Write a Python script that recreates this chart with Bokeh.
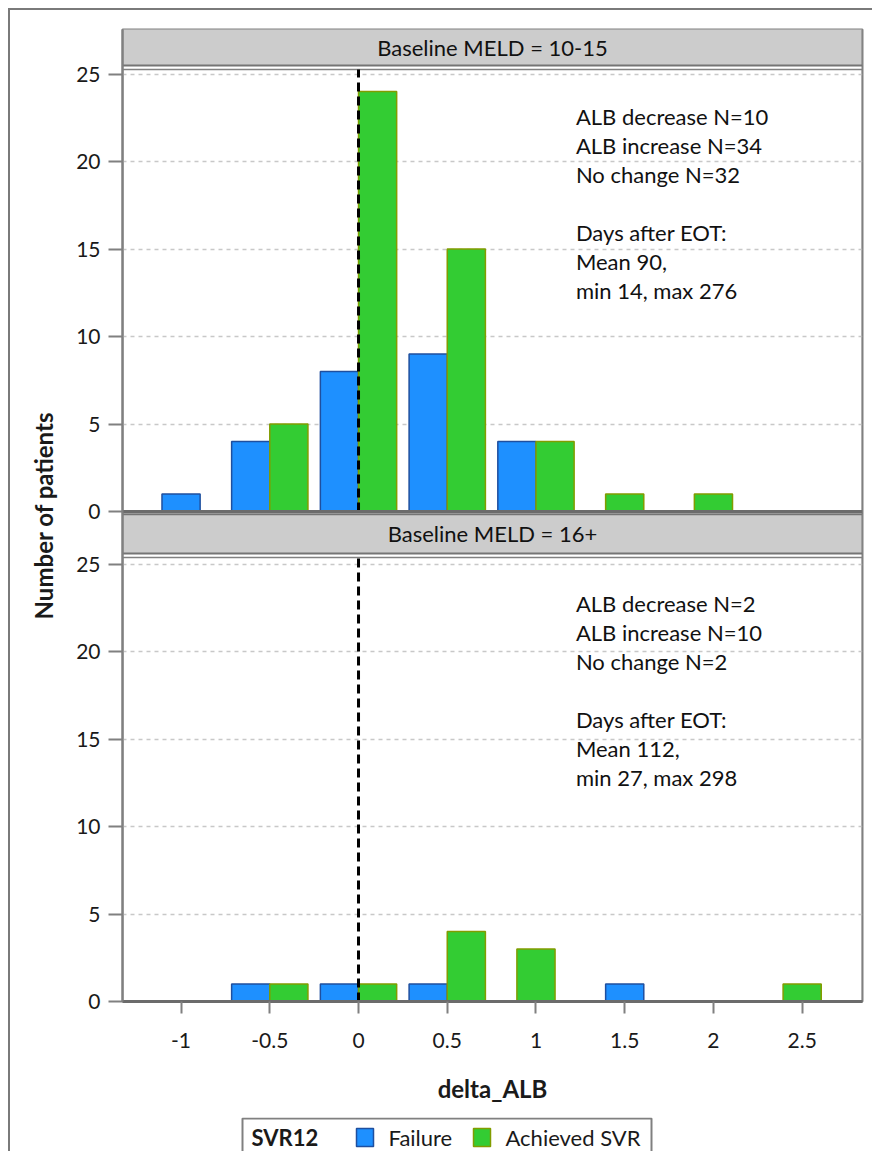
from bokeh.plotting import figure
from bokeh.models import Range1d, FixedTicker, Spacer
from bokeh.layouts import column, row
from bokeh.embed import file_html
from bokeh.resources import INLINE
from bokeh.core.properties import value

# ---------------- data ----------------
bins = [-1.0, -0.5, 0.0, 0.5, 1.0, 1.5, 2.0, 2.5]
top_failure = [1, 4, 8, 9, 4, 0, 0, 0]
top_svr = [0, 5, 24, 15, 4, 1, 1, 0]
bot_failure = [0, 1, 1, 1, 0, 1, 0, 0]
bot_svr = [0, 1, 1, 4, 3, 0, 0, 1]
panel_titles = ["Baseline MELD = 10-15", "Baseline MELD = 16+"]
top_note = ["ALB decrease N=10", "ALB increase N=34", "No change N=32", "",
            "Days after EOT:", "Mean 90,", "min 14, max 276"]
bot_note = ["ALB decrease N=2", "ALB increase N=10", "No change N=2", "",
            "Days after EOT:", "Mean 112,", "min 27, max 298"]
y_ticks = [0, 5, 10, 15, 20, 25]
x_ticks = [-1, -0.5, 0, 0.5, 1, 1.5, 2, 2.5]
group_labels = ["Failure", "Achieved SVR"]
legend_title = "SVR12"
x_label = "delta_ALB"
y_label = "Number of patients"

# ---------------- layout / style ----------------
FONT = "Lato"
W, H = 862, 1107
LEG_H = 34
MB_L, MB_R, MB_T, MB_B = 112, 10, 19, 116
FRAME_W = W - MB_L - MB_R
PX = 17.5                      # pixels per count
FRAME_H = H - MB_T - MB_B
Y_END = FRAME_H / PX
OFFSET = 28                    # top panel zero, in bottom-panel units
X0, X1 = -1.33, 2.84
BW = 0.215
PANEL_TOP_T = 25.26
PANEL_TOP_B = 25.37
BLUE, BLUE_LINE = "#1e90ff", "#1f4f9f"
GREEN, GREEN_LINE = "#33cc33", "#829c00"
GRAY = "#808080"
TXT = "#1a1a1a"

p = figure(width=W, height=H, x_range=Range1d(X0, X1), y_range=Range1d(0, Y_END),
           output_backend="svg", toolbar_location=None,
           min_border_left=MB_L, min_border_right=MB_R,
           min_border_top=MB_T, min_border_bottom=MB_B)
p.extra_y_ranges = {"top": Range1d(-OFFSET, Y_END - OFFSET)}
p.outline_line_color = GRAY
p.outline_line_width = 2
p.background_fill_color = "white"
p.border_fill_color = "white"

# grid
p.xgrid.visible = False
p.ygrid.ticker = FixedTicker(ticks=[t for t in y_ticks if t > 0] + [t + OFFSET for t in y_ticks if t > 0])
p.ygrid.grid_line_color = "#c8c8c8"
p.ygrid.grid_line_dash = "4 4"
p.ygrid.grid_line_width = 1.5

# axes
xa = p.xaxis[0]
xa.ticker = FixedTicker(ticks=x_ticks)
xa.major_label_overrides = {t: f"{t:g}" for t in x_ticks}
xa.axis_line_color = "#6b6b6b"
xa.axis_line_width = 3
xa.major_tick_line_color = GRAY
xa.major_tick_line_width = 2
xa.major_tick_out = 12
xa.major_tick_in = 0
xa.minor_tick_line_color = None
xa.major_label_standoff = 19
xa.major_label_text_font = FONT
xa.major_label_text_font_size = "21px"
xa.major_label_text_color = TXT
xa.axis_label = x_label
xa.axis_label_text_font = FONT
xa.axis_label_text_font_size = "24px"
xa.axis_label_text_font_style = "bold"
xa.axis_label_text_color = TXT
xa.axis_label_standoff = 23

ya = p.yaxis[0]
ya.ticker = FixedTicker(ticks=y_ticks + [t + OFFSET for t in y_ticks])
ya.major_label_overrides = {t + OFFSET: str(t) for t in y_ticks}
ya.axis_line_color = GRAY
ya.axis_line_width = 2
ya.major_tick_line_color = GRAY
ya.major_tick_line_width = 2
ya.major_tick_out = 14
ya.major_tick_in = 0
ya.minor_tick_line_color = None
ya.major_label_standoff = 8
ya.major_label_text_font = FONT
ya.major_label_text_font_size = "21px"
ya.major_label_text_color = TXT
ya.axis_label = y_label
ya.axis_label_text_font = FONT
ya.axis_label_text_font_size = "24px"
ya.axis_label_text_font_style = "bold"
ya.axis_label_text_color = TXT
ya.axis_label_standoff = 15


def dodge(fail, svr):
    fx, fy, sx, sy = [], [], [], []
    for c, f, s in zip(bins, fail, svr):
        both = f > 0 and s > 0
        if f > 0:
            fx.append(c - BW / 2 if both else c)
            fy.append(f)
        if s > 0:
            sx.append(c + BW / 2 if both else c)
            sy.append(s)
    return fx, fy, sx, sy


for fail, svr, rng, ptop in [(top_failure, top_svr, "top", PANEL_TOP_T),
                             (bot_failure, bot_svr, "default", PANEL_TOP_B)]:
    fx, fy, sx, sy = dodge(fail, svr)
    p.vbar(x=fx, top=fy, bottom=0, width=BW, fill_color=BLUE, line_color=BLUE_LINE,
           line_width=1.5, y_range_name=rng)
    p.vbar(x=sx, top=sy, bottom=0, width=BW, fill_color=GREEN, line_color=GREEN_LINE,
           line_width=1.5, y_range_name=rng)
    # panel border
    p.quad(left=[X0], right=[X1], bottom=[0], top=[ptop], fill_color=None,
           line_color=GRAY, line_width=1.5, y_range_name=rng)
    # zero reference line
    p.segment(x0=[0], y0=[0], x1=[0], y1=[ptop], line_color="black", line_width=3,
              line_dash="9 5", y_range_name=rng)

# baseline of the top panel
p.segment(x0=[X0], y0=[0], x1=[X1], y1=[0], line_color="#6b6b6b", line_width=3,
          y_range_name="top")

# header strips
hdrs = [("top", 25.49, 27.7, Y_END - OFFSET), ("default", 25.6, 27.85, 27.85)]
for (rng, hb, ht, vis_top), title in zip(hdrs, panel_titles):
    p.quad(left=[X0], right=[X1], bottom=[hb], top=[ht], fill_color="#cccccc",
           line_color="#747474", line_width=2, y_range_name=rng)
    p.text(x=[(X0 + X1) / 2], y=[(hb + min(ht, vis_top)) / 2], text=[title],
           text_align="center", text_baseline="middle", text_font=value(FONT),
           text_font_size="22px", text_color="#111111", y_range_name=rng)

# annotations
STEP = 29 / PX
for rng, note, y0 in [("top", top_note, 22.57), ("default", bot_note, 22.74)]:
    ys = [y0 - i * STEP for i in range(len(note))]
    p.text(x=[1.225] * len(note), y=ys, text=note, text_align="left",
           text_baseline="middle", text_font=value(FONT), text_font_size="22px",
           text_color="#111111", y_range_name=rng)

# ---------------- legend strip (separate small figure, frame aligned with main) ----------------
lg = figure(width=W, height=LEG_H, x_range=Range1d(0, FRAME_W), y_range=Range1d(0, LEG_H),
            output_backend="svg", toolbar_location=None, x_axis_type=None, y_axis_type=None,
            min_border_left=MB_L, min_border_right=MB_R, min_border_top=0, min_border_bottom=0)
lg.outline_line_color = None
lg.grid.visible = False
lg.background_fill_color = "white"
lg.border_fill_color = "white"
BOX_L, BOX_R = 120, 529
YC = LEG_H - 20
lg.quad(left=[BOX_L], right=[BOX_R], bottom=[-6], top=[LEG_H - 1], fill_color="white",
        line_color=GRAY, line_width=2)
lg.text(x=[BOX_L + 9], y=[YC], text=[legend_title], text_align="left", text_baseline="middle",
        text_font=value(FONT), text_font_size="22px", text_font_style="bold", text_color=TXT)
sw = [(234, BLUE, BLUE_LINE, group_labels[0]), (351, GREEN, GREEN_LINE, group_labels[1])]
for sx0, fc, lc, lab in sw:
    lg.quad(left=[sx0], right=[sx0 + 17], bottom=[YC - 9], top=[YC + 9], fill_color=fc,
            line_color=lc, line_width=1.5)
    lg.text(x=[sx0 + 32], y=[YC], text=[lab], text_align="left", text_baseline="middle",
            text_font=value(FONT), text_font_size="22px", text_color=TXT)

inner = column(p, lg, spacing=0,
               styles={"border-left": "2px solid #7a7a7a", "border-top": "2px solid #7a7a7a"})
root = row(Spacer(width=8), column(Spacer(height=8), inner, spacing=0), spacing=0)

open("out.html", "w").write(file_html(root, INLINE))
